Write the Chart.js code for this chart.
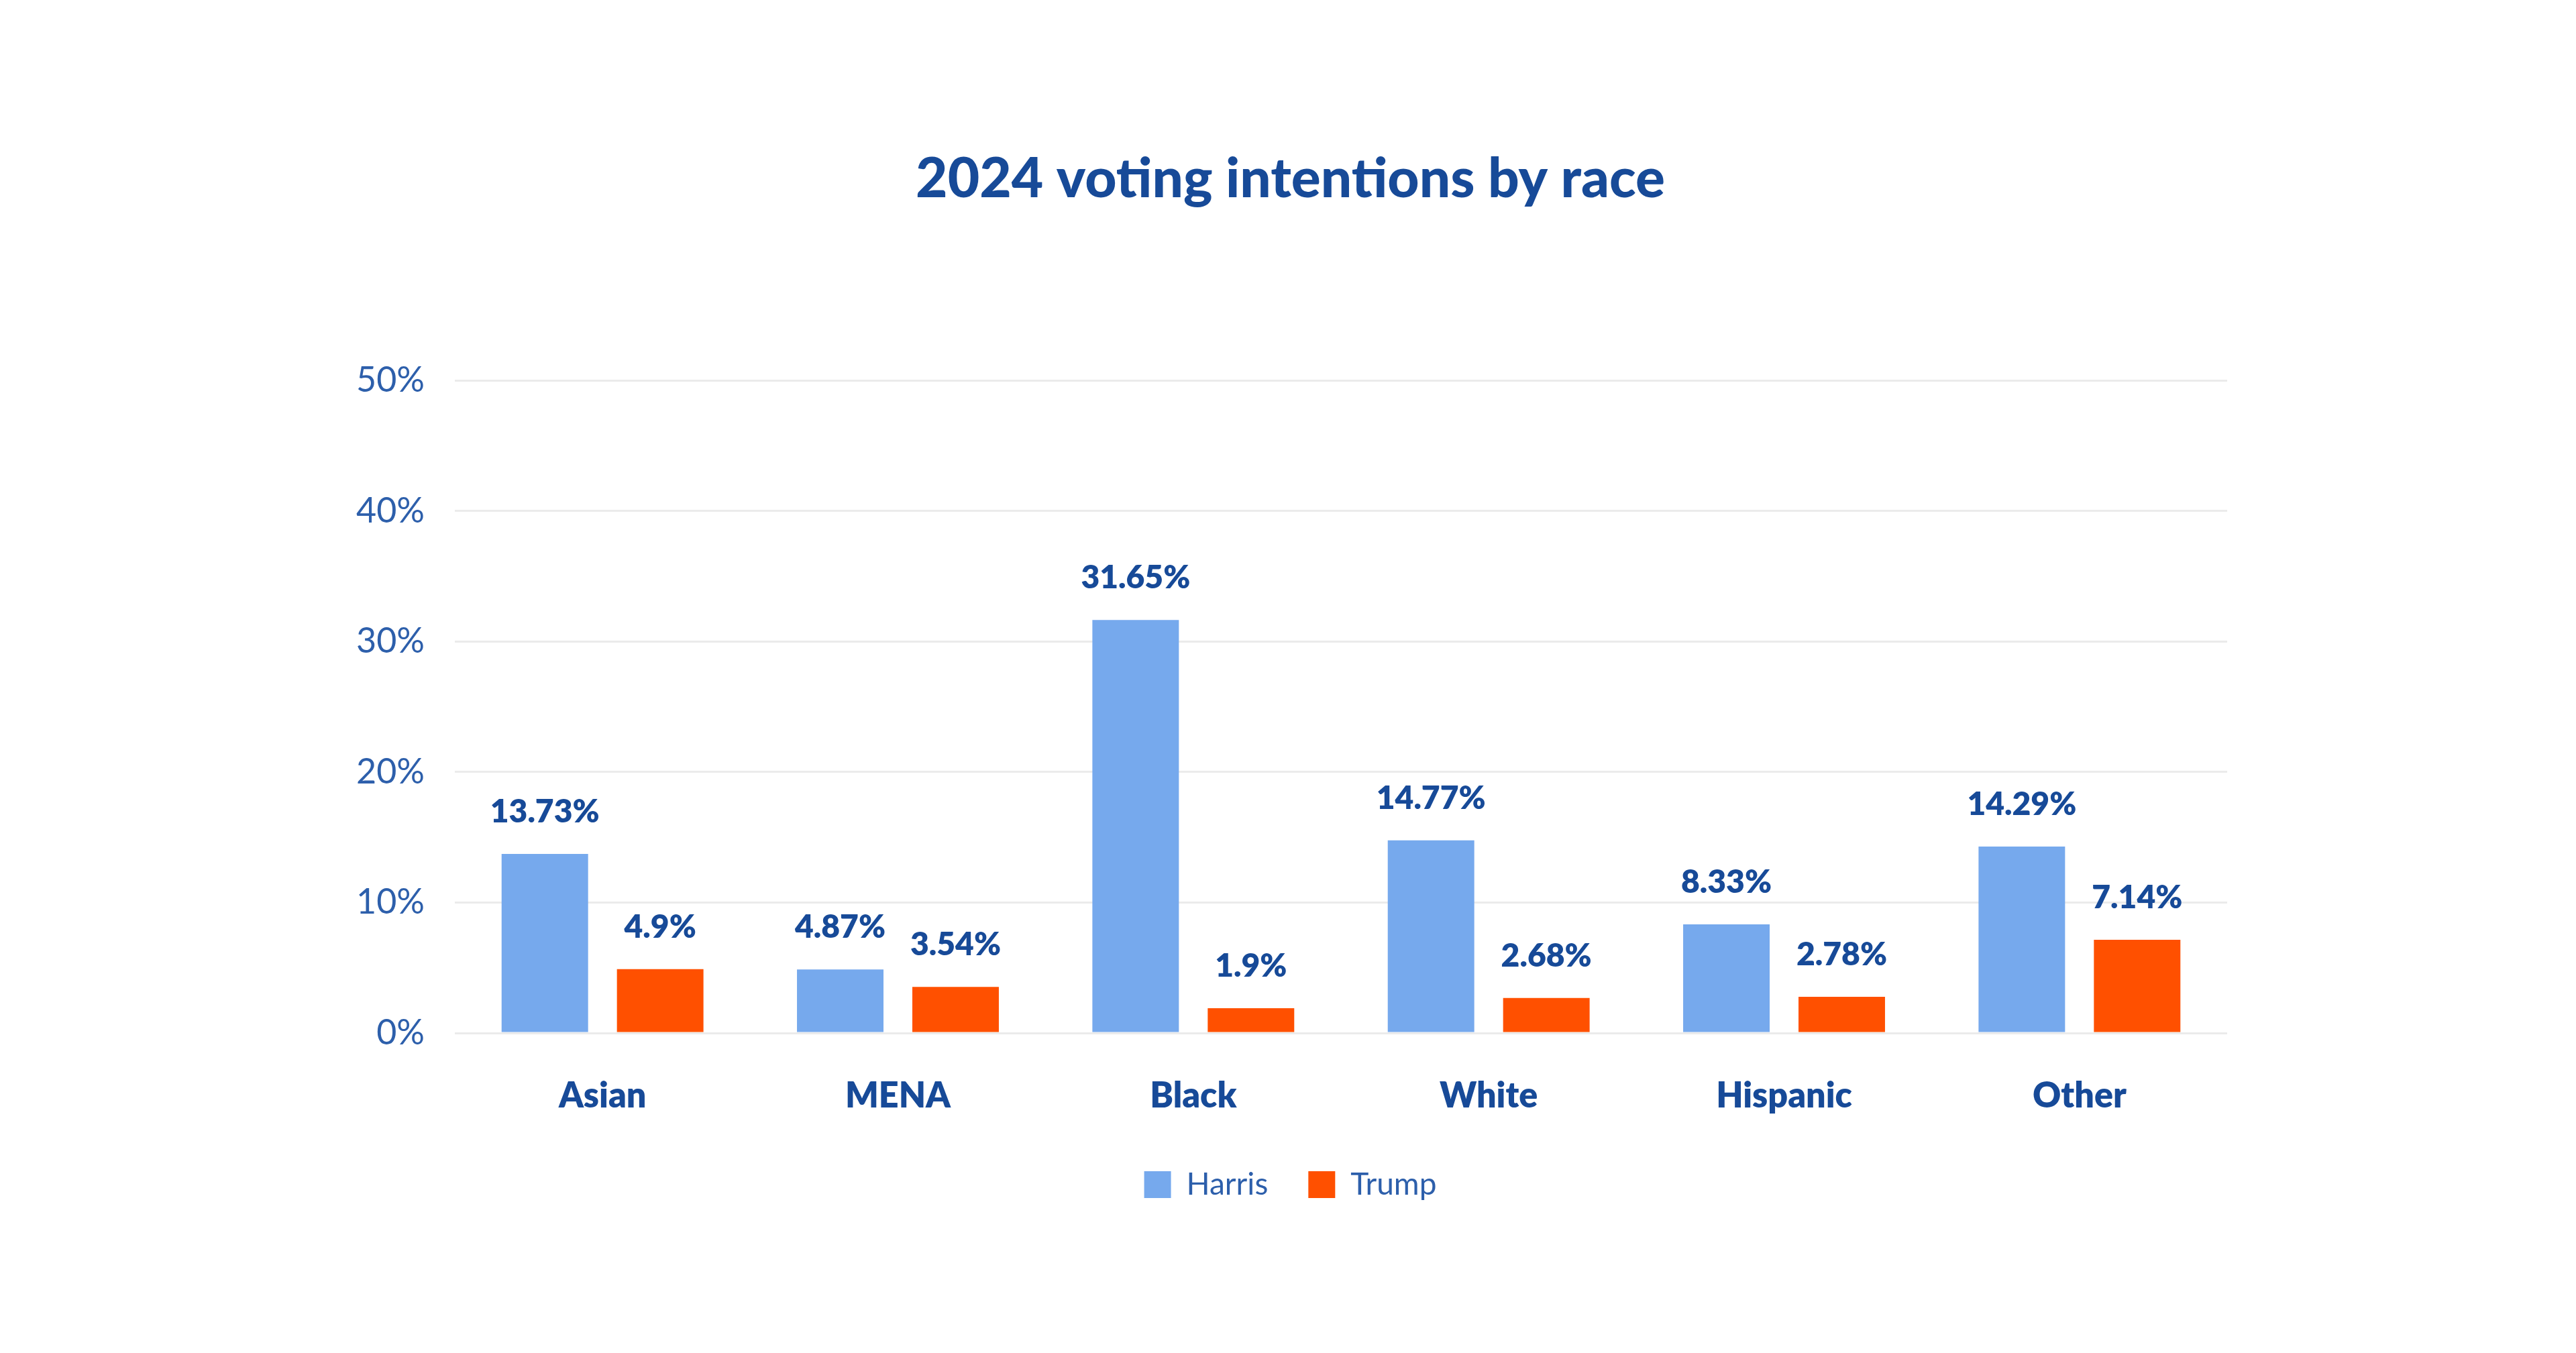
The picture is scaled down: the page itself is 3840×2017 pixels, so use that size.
<!DOCTYPE html>
<html>
<head>
<meta charset="utf-8">
<title>2024 voting intentions by race</title>
<script src="https://cdn.jsdelivr.net/npm/chart.js@4.4.1/dist/chart.umd.min.js"></script>
<style>
    html, body { margin: 0; padding: 0; background: #ffffff; }
    #wrap { width: 100vw; height: 100vh; }
</style>
</head>
<body>
<div id="wrap"><canvas id="raceChart"></canvas></div>
<script>
const races = ["Asian", "MENA", "Black", "White", "Hispanic", "Other"];
const harris = [13.73, 4.87, 31.65, 14.77, 8.33, 14.29];
const trump = [4.9, 3.54, 1.9, 2.68, 2.78, 7.14];
const yTicks = [0, 10, 20, 30, 40, 50];

const darkBlue = "#174a98";
const tickBlue = "#2d5fab";

// percentages above each bar
const valueLabels = {
    id: "valueLabels",
    afterDatasetsDraw(chart) {
        const ctx = chart.ctx;
        ctx.save();
        ctx.font = "800 48px Lato";
        ctx.fillStyle = darkBlue;
        ctx.textAlign = "center";
        ctx.textBaseline = "alphabetic";
        chart.data.datasets.forEach((ds, i) => {
            const meta = chart.getDatasetMeta(i);
            meta.data.forEach((bar, j) => {
                ctx.fillText(ds.data[j] + "%", bar.x, bar.y - 47);
            });
        });
        ctx.restore();
    }
};

const ctx = document.getElementById("raceChart").getContext("2d");
const raceChart = new Chart(ctx, {
    type: "bar",
    data: {
        labels: races,
        datasets: [{
            label: "Harris",
            data: harris,
            backgroundColor: "#76a9ed",
            categoryPercentage: 0.781,
            barPercentage: 0.75
        }, {
            label: "Trump",
            data: trump,
            backgroundColor: "#ff5000",
            categoryPercentage: 0.781,
            barPercentage: 0.75
        }]
    },
    options: {
        responsive: true,
        maintainAspectRatio: false,
        animation: false,
        layout: {
            padding: { left: 527, right: 520, top: 0, bottom: 218 }
        },
        plugins: {
            title: {
                display: true,
                text: "2024 voting intentions by race",
                color: darkBlue,
                font: { family: "Lato", size: 82, weight: "900", lineHeight: 1.2 },
                padding: { top: 218, bottom: 251 }
            },
            legend: {
                position: "bottom",
                labels: {
                    color: tickBlue,
                    font: { family: "Lato", size: 46 },
                    boxWidth: 40,
                    boxHeight: 40,
                    padding: 60
                }
            },
            tooltip: { enabled: false }
        },
        scales: {
            x: {
                afterFit(scale) { scale.height = 143; },
                grid: { display: false, drawTicks: false },
                border: { display: false },
                ticks: {
                    color: darkBlue,
                    font: { family: "Lato", size: 52, weight: "800", lineHeight: 1.81 },
                    padding: 47
                }
            },
            y: {
                min: 0,
                max: 50,
                afterFit(scale) { scale.width = 151; },
                afterBuildTicks(scale) { scale.ticks = yTicks.map(v => ({ value: v })); },
                grid: { color: "#ebebeb", lineWidth: 3, drawTicks: false },
                border: { display: false },
                ticks: {
                    color: tickBlue,
                    font: { family: "Lato", size: 52 },
                    padding: 45,
                    callback: v => v + "%"
                }
            }
        }
    },
    plugins: [valueLabels]
});
</script>
</body>
</html>
